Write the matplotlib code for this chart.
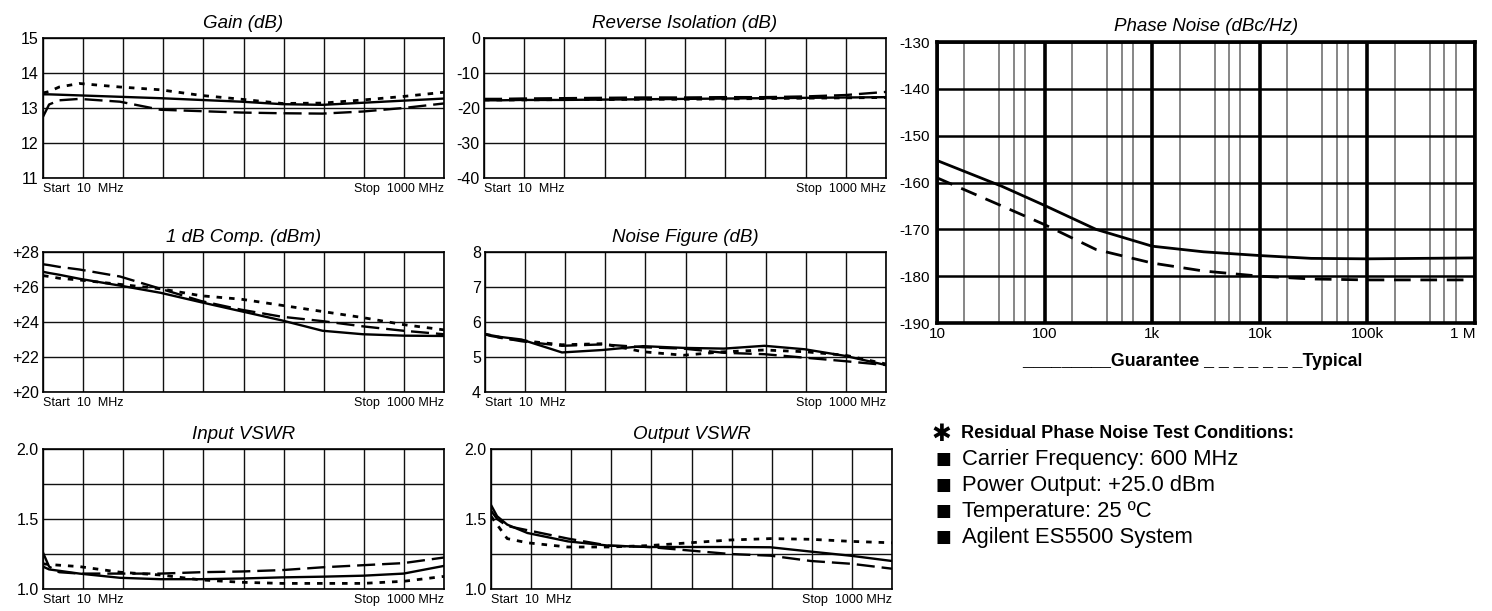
import matplotlib.pyplot as plt

plt.rcParams['font.family'] = ['Liberation Sans', 'DejaVu Sans']
plt.rcParams['lines.scale_dashes'] = False
plt.rcParams['axes.unicode_minus'] = False

FIG_W, FIG_H = 1492, 611

# sweep points (MHz) shared by the six analyzer traces
freq = [10, 25, 50, 100, 200, 300, 400, 500, 600, 700, 800, 900, 1000]

gain_solid = [13.39, 13.39, 13.38, 13.36, 13.32, 13.28, 13.23, 13.18, 13.11, 13.09, 13.15, 13.21, 13.27]
gain_dash = [12.75, 13.1, 13.22, 13.26, 13.18, 12.95, 12.91, 12.87, 12.85, 12.84, 12.9, 13.0, 13.13]
gain_dot = [13.43, 13.47, 13.6, 13.7, 13.6, 13.52, 13.36, 13.25, 13.13, 13.14, 13.23, 13.33, 13.45]

iso_solid = [-17.8, -17.8, -17.8, -17.7, -17.7, -17.6, -17.5, -17.4, -17.3, -17.2, -17.1, -17.0, -16.9]
iso_dash = [-17.4, -17.4, -17.4, -17.3, -17.2, -17.1, -17.0, -17.0, -16.9, -16.9, -16.7, -16.3, -15.4]
iso_dot = [-17.7, -17.7, -17.7, -17.7, -17.6, -17.6, -17.5, -17.5, -17.4, -17.3, -17.2, -17.1, -17.0]

comp_solid = [26.87, 26.8, 26.7, 26.47, 26.08, 25.67, 25.13, 24.61, 24.09, 23.5, 23.3, 23.22, 23.2]
comp_dash = [27.3, 27.25, 27.15, 27.0, 26.6, 25.9, 25.2, 24.7, 24.3, 24.05, 23.75, 23.5, 23.3]
comp_dot = [26.65, 26.6, 26.5, 26.4, 26.15, 25.9, 25.5, 25.3, 24.95, 24.6, 24.25, 23.85, 23.55]

nf_solid = [5.65, 5.62, 5.57, 5.5, 5.13, 5.2, 5.31, 5.26, 5.24, 5.32, 5.22, 5.03, 4.77]
nf_dash = [5.65, 5.6, 5.55, 5.45, 5.32, 5.36, 5.28, 5.24, 5.12, 5.08, 4.98, 4.88, 4.77]
nf_dot = [5.65, 5.62, 5.55, 5.47, 5.35, 5.38, 5.15, 5.05, 5.15, 5.2, 5.15, 5.05, 4.8]

invswr_solid = [1.16, 1.14, 1.13, 1.11, 1.08, 1.07, 1.07, 1.075, 1.083, 1.088, 1.095, 1.11, 1.165]
invswr_dash = [1.26, 1.16, 1.12, 1.11, 1.11, 1.11, 1.12, 1.125, 1.135, 1.155, 1.17, 1.185, 1.225]
invswr_dot = [1.18, 1.175, 1.17, 1.16, 1.12, 1.1, 1.065, 1.048, 1.04, 1.04, 1.04, 1.055, 1.09]

outvswr_solid = [1.6, 1.52, 1.46, 1.4, 1.34, 1.31, 1.3, 1.3, 1.3, 1.298, 1.267, 1.237, 1.2]
outvswr_dash = [1.56, 1.5, 1.45, 1.42, 1.36, 1.31, 1.3, 1.275, 1.25, 1.238, 1.2, 1.18, 1.145]
outvswr_dot = [1.52, 1.46, 1.36, 1.33, 1.3, 1.3, 1.31, 1.33, 1.35, 1.36, 1.355, 1.34, 1.33]

# residual phase noise, offset in Hz
pn_offset = [10, 40, 100, 300, 1000, 3000, 10000, 30000, 100000, 1000000]
pn_guarantee = [-155.3, -160.8, -164.9, -170.0, -173.6, -174.8, -175.6, -176.2, -176.3, -176.1]
pn_typical = [-159.0, -165.0, -169.0, -174.3, -177.2, -178.9, -180.0, -180.6, -180.8, -180.8]
pn_ticks = [10, 100, 1000, 10000, 100000, 1000000]
pn_tick_labels = ['10', '100', '1k', '10k', '100k', '1 M']

conditions = ['Carrier Frequency: 600 MHz', 'Power Output: +25.0 dBm',
              'Temperature: 25 \u00baC', 'Agilent ES5500 System']


def add_axes_px(fig, x0, y0, x1, y1):
    """Place an axes using pixel box (left, top, right, bottom)."""
    return fig.add_axes([x0 / FIG_W, 1 - y1 / FIG_H, (x1 - x0) / FIG_W, (y1 - y0) / FIG_H])


def small_panel(fig, box, title, ylim, yticks, ylabels, solid, dash, dot):
    ax = add_axes_px(fig, *box)
    ax.set_xlim(10, 1000)
    ax.set_ylim(*ylim)
    ax.set_xticks([10 + 99 * i for i in range(11)], labels=[''] * 11)
    ax.set_yticks(yticks, labels=ylabels)
    ax.tick_params(length=0, labelsize=11.5, pad=3)
    ax.grid(True, color='#111111', lw=1.0)
    for s in ax.spines.values():
        s.set_linewidth(1.2)
    ax.plot(freq, solid, color='black', lw=1.7)
    ax.plot(freq, dash, color='black', lw=1.7, dashes=(13, 5))
    ax.plot(freq, dot, color='black', lw=2.0, dashes=(4, 5))
    ax.set_title(title, fontsize=13.5, style='italic', pad=7)
    ax.text(0, -0.035, 'Start  10  MHz', transform=ax.transAxes, ha='left', va='top', fontsize=9)
    ax.text(1, -0.035, 'Stop  1000 MHz', transform=ax.transAxes, ha='right', va='top', fontsize=9)
    return ax


fig = plt.figure(figsize=(FIG_W / 100, FIG_H / 100), dpi=100)

small_panel(fig, (43, 38, 444, 178), 'Gain (dB)', (11, 15), [11, 12, 13, 14, 15],
            ['11', '12', '13', '14', '15'], gain_solid, gain_dash, gain_dot)
small_panel(fig, (484, 38, 886, 178), 'Reverse Isolation (dB)', (-40, 0), [-40, -30, -20, -10, 0],
            ['-40', '-30', '-20', '-10', '0'], iso_solid, iso_dash, iso_dot)
small_panel(fig, (43, 252, 444, 392), '1 dB Comp. (dBm)', (20, 28), [20, 22, 24, 26, 28],
            ['+20', '+22', '+24', '+26', '+28'], comp_solid, comp_dash, comp_dot)
small_panel(fig, (485, 252, 886, 392), 'Noise Figure (dB)', (4, 8), [4, 5, 6, 7, 8],
            ['4', '5', '6', '7', '8'], nf_solid, nf_dash, nf_dot)
small_panel(fig, (43, 449, 444, 589), 'Input VSWR', (1, 2), [1, 1.25, 1.5, 1.75, 2],
            ['1.0', '', '1.5', '', '2.0'], invswr_solid, invswr_dash, invswr_dot)
small_panel(fig, (491, 449, 892, 589), 'Output VSWR', (1, 2), [1, 1.25, 1.5, 1.75, 2],
            ['1.0', '', '1.5', '', '2.0'], outvswr_solid, outvswr_dash, outvswr_dot)

# phase noise plot
ax = add_axes_px(fig, 937, 42, 1475, 323)
ax.set_xscale('log')
ax.set_xlim(10, 1e6)
ax.set_ylim(-190, -130)
ax.set_xticks(pn_ticks, labels=pn_tick_labels)
ax.get_xticklabels()[-1].set_ha('right')
minor = [m * d for d in pn_ticks[:-1] for m in (1.8, 3.8, 5.2, 6.6)]
ax.set_xticks(minor, minor=True)
ax.set_xticklabels([], minor=True)
ax.set_yticks(range(-190, -129, 10))
ax.tick_params(which='both', length=0, labelsize=11)
ax.tick_params(axis='x', pad=3)
ax.tick_params(axis='y', pad=5)
ax.grid(True, which='major', axis='x', color='black', lw=2.6)
ax.grid(True, which='minor', axis='x', color='#666666', lw=1.1)
ax.grid(True, which='major', axis='y', color='black', lw=1.8)
for s in ax.spines.values():
    s.set_linewidth(2.6)
ax.plot(pn_offset, pn_guarantee, color='black', lw=2.0)
ax.plot(pn_offset, pn_typical, color='black', lw=2.0, dashes=(12, 7))
ax.set_title('Phase Noise (dBc/Hz)', fontsize=13.5, style='italic', pad=8)

fig.text(1192 / FIG_W, 1 - 362 / FIG_H, '_________Guarantee _ _ _ _ _ _ _Typical',
         ha='center', va='center', fontsize=12.8, weight='bold')

# test conditions block
fig.text(941 / FIG_W, 1 - 434 / FIG_H, '\u2731', ha='center', va='center',
         fontsize=17, weight='bold', family=['DejaVu Sans'])
fig.text(961 / FIG_W, 1 - 434 / FIG_H, 'Residual Phase Noise Test Conditions:',
         ha='left', va='center', fontsize=13, weight='bold')
for i, line in enumerate(conditions):
    y = 1 - (459 + 26 * i) / FIG_H
    fig.text(943 / FIG_W, y, '\u25a0', ha='center', va='center', fontsize=12, family=['DejaVu Sans'])
    fig.text(962 / FIG_W, y, line, ha='left', va='center', fontsize=15.8)

fig.savefig('out.png', dpi=100)
